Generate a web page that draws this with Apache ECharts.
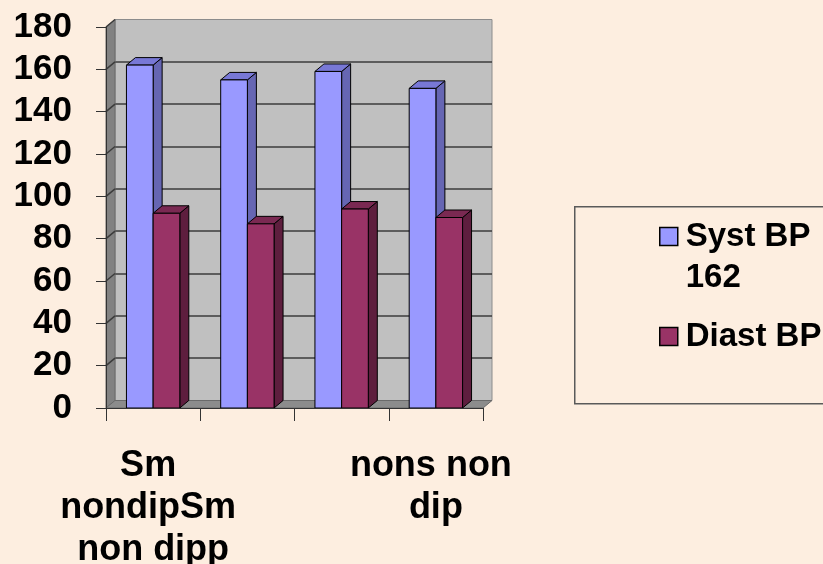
<!DOCTYPE html>
<html>
<head>
<meta charset="utf-8">
<script src="https://cdn.jsdelivr.net/npm/echarts@6/dist/echarts.min.js"></script>
<style>
html,body{margin:0;padding:0;background:#FDEEE0;}
#chart{width:823px;height:564px;}
</style>
</head>
<body>
<div id="chart"></div>
<script>
// ---- data ----
const categories = ['Sm nondipSm non dipp', '', '', 'nons non dip'];
const systBP = [162, 155, 159, 151];
const diastBP = [92, 87, 94, 90];
const seriesNames = ['Syst BP 162', 'Diast BP'];
const yTicks = [0, 20, 40, 60, 80, 100, 120, 140, 160, 180];

// ---- style ----
const FONT = "'Liberation Sans', Arial, sans-serif";
const DX = 9, DY = 7.5;          // 3D depth offset
const BAR_FRAC = 0.283;          // bar width as fraction of category band

function makeBar(side, front, sideCol, topCol) {
  return function (params, api) {
    const cat = api.value(0), val = api.value(1);
    const t = api.coord([cat, val]);
    const b = api.coord([cat, 0]);
    const w = api.size([1, 0])[0] * BAR_FRAC;
    const x0 = side < 0 ? t[0] - w : t[0];
    const x1 = x0 + w;
    const y0 = t[1], y1 = b[1];
    const st = { stroke: '#000', lineWidth: 1 };
    return {
      type: 'group',
      children: [
        { type: 'polygon', shape: { points: [[x1, y0], [x1 + DX, y0 - DY], [x1 + DX, y1 - DY], [x1, y1]] },
          style: Object.assign({ fill: sideCol }, st) },
        { type: 'polygon', shape: { points: [[x0, y0], [x0 + DX, y0 - DY], [x1 + DX, y0 - DY], [x1, y0]] },
          style: Object.assign({ fill: topCol }, st) },
        { type: 'rect', shape: { x: x0, y: y0, width: w, height: y1 - y0 },
          style: Object.assign({ fill: front }, st) }
      ]
    };
  };
}

function renderWalls(params, api) {
  const cs = params.coordSys;
  const L = cs.x, T = cs.y, R = cs.x + cs.width, B = cs.y + cs.height;
  const children = [
    { type: 'polygon', shape: { points: [[L, T], [L + DX, T - DY], [L + DX, B - DY], [L, B]] },
      style: { fill: '#828282', stroke: '#6a6a6a', lineWidth: 1 } },
    { type: 'polygon', shape: { points: [[L, B], [L + DX, B - DY], [R + DX, B - DY], [R, B]] },
      style: { fill: '#8c8c8c', stroke: '#6a6a6a', lineWidth: 1 } }
  ];
  yTicks.forEach(function (v) {
    if (v === 0) return;
    const y = api.coord([0, v])[1];
    children.push({ type: 'line', shape: { x1: L, y1: y, x2: L + DX, y2: y - DY },
      style: { stroke: '#3c3c3c', lineWidth: 1.5 } });
  });
  return { type: 'group', children: children };
}

const chart = echarts.init(document.getElementById('chart'), null, { renderer: 'canvas' });

const labelFont = { fontFamily: FONT, fontWeight: 'bold', color: '#000' };

chart.setOption({
  backgroundColor: '#FDEEE0',
  animation: false,
  grid: [
    { left: 106, right: 340, top: 27, bottom: 156, outerBoundsMode: 'none', containLabel: false },
    { left: 106 + DX, right: 340 - DX, top: 27 - DY, bottom: 156 + DY, outerBoundsMode: 'none', containLabel: false,
      show: true, backgroundColor: '#C0C0C0', borderColor: '#8c8c8c', borderWidth: 1 }
  ],
  xAxis: [
    { type: 'category', gridIndex: 0, data: categories, z: 5,
      axisLine: { lineStyle: { color: '#333', width: 1 } },
      axisTick: { show: true, interval: 0, length: 13, lineStyle: { color: '#333' } },
      axisLabel: Object.assign({ interval: function (i) { return i === 0 || i === 3; },
        fontSize: 36, lineHeight: 42, margin: 37, width: 200, overflow: 'break' }, labelFont) },
    { type: 'value', gridIndex: 1, min: 0, max: 1, show: false }
  ],
  yAxis: [
    { type: 'value', gridIndex: 0, min: 0, max: 180, interval: 20, z: 5,
      axisLine: { show: true, lineStyle: { color: '#333', width: 1 } },
      axisTick: { show: true, length: 10, lineStyle: { color: '#333' } },
      splitLine: { show: false },
      axisLabel: Object.assign({ fontSize: 35, margin: 34 }, labelFont) },
    { type: 'value', gridIndex: 1, min: 0, max: 180, interval: 20,
      axisLine: { show: false }, axisTick: { show: false }, axisLabel: { show: false },
      splitLine: { show: true, showMinLine: false, showMaxLine: false, lineStyle: { color: '#3c3c3c', width: 1.5 } } }
  ],
  legend: [
    { left: 659, top: 175, padding: 0, itemWidth: 18, itemHeight: 18, icon: 'rect',
      itemStyle: { borderColor: '#000', borderWidth: 1.5 },
      data: [seriesNames[0]],
      formatter: function (name) { return ' \n' + name.replace(/ (\S+)$/, '\n$1'); },
      textStyle: Object.assign({ fontSize: 33, lineHeight: 41, padding: [0, 0, 0, 3] }, labelFont) },
    { left: 659, top: 316, padding: 0, itemWidth: 18, itemHeight: 18, icon: 'rect',
      itemStyle: { borderColor: '#000', borderWidth: 1.5 },
      data: [seriesNames[1]],
      textStyle: Object.assign({ fontSize: 33, lineHeight: 41, padding: [0, 0, 0, 3] }, labelFont) }
  ],
  graphic: [
    { type: 'rect', left: 574, top: 206, shape: { width: 300, height: 197 },
      style: { fill: 'transparent', stroke: '#5a5a5a', lineWidth: 1.5 }, silent: true }
  ],
  series: [
    { type: 'custom', name: 'walls', xAxisIndex: 0, yAxisIndex: 0, z: 1, silent: true,
      renderItem: renderWalls, data: [[0, 0]] },
    { type: 'custom', name: seriesNames[0], xAxisIndex: 0, yAxisIndex: 0, z: 3,
      itemStyle: { color: '#9999FF' }, encode: { x: 0, y: 1 },
      renderItem: makeBar(-1, '#9999FF', '#6666B3', '#7878D6'),
      data: systBP.map(function (v, i) { return [i, v]; }) },
    { type: 'custom', name: seriesNames[1], xAxisIndex: 0, yAxisIndex: 0, z: 3,
      itemStyle: { color: '#993366' }, encode: { x: 0, y: 1 },
      renderItem: makeBar(1, '#993366', '#5E1E3E', '#7A2952'),
      data: diastBP.map(function (v, i) { return [i, v]; }) }
  ]
});
</script>
</body>
</html>
